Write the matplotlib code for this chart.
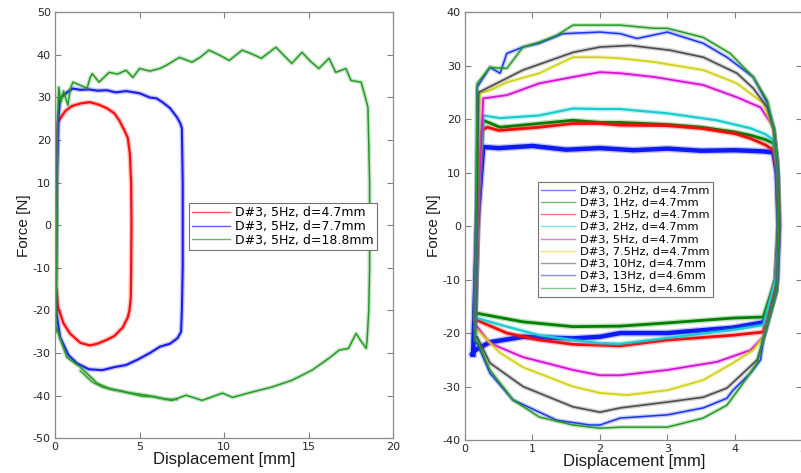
import matplotlib
matplotlib.use("Agg")
import matplotlib.pyplot as plt
from matplotlib.lines import Line2D

plt.rcParams['font.family'] = ['DejaVu Sans']
plt.rcParams['axes.unicode_minus'] = False

# --- left panel: 5 Hz loops at three amplitudes ---
red_x = [0.05, 0.08, 0.15, 0.3, 0.6, 1.0, 1.5, 2.06, 2.6, 3.1, 3.5, 3.8, 4.1, 4.3, 4.42, 4.5,
         4.52, 4.5, 4.48, 4.4, 4.3, 4.0, 3.5, 3.0, 2.5, 2.06, 1.5, 0.88, 0.5, 0.18, 0.08, 0.05]
red_y = [-15, 10, 24, 25, 26.8, 28, 28.6, 28.9, 28.3, 27.4, 26.3, 24.6, 22.3, 20.5, 17, 10,
         0, -10, -17, -20, -21.6, -24, -26, -27, -27.8, -28.2, -27.6, -25.4, -23, -19.2, -15, -15]

blue_x = [0.05, 0.1, 0.2, 0.3, 0.5, 0.8, 1.06, 1.5, 2.0, 2.5, 3.06, 3.6, 4.2, 5.0, 5.6, 6.0,
          6.35, 6.8, 7.2, 7.4, 7.5, 7.55, 7.55, 7.5, 7.45, 7.24, 6.8, 6.2, 5.6, 4.9, 4.2, 3.5,
          2.8, 2.0, 1.3, 0.8, 0.3, 0.1, 0.05]
blue_y = [-17, 10, 25, 29.8, 30.5, 31.5, 32.1, 31.8, 31.9, 31.6, 31.7, 31.2, 31.5, 31, 30, 29.8,
          28.9, 27.5, 25.4, 24, 22.8, 10, -10, -20, -25, -26.5, -27.8, -28.5, -30, -31.5, -32.8, -33.3,
          -34, -33.8, -32.4, -30.5, -26.3, -21, -17]

green_x = [0.05, 0.1, 0.15, 0.22, 0.35, 0.5, 0.76, 0.9, 1.06, 1.47, 1.9, 2.06, 2.2, 2.6, 3.2, 3.7,
           4.2, 4.6, 5.0, 5.6, 6.2, 6.6, 7.35, 8.1, 8.6, 9.1, 9.7, 10.3, 11.06, 11.6, 12.2, 13.06,
           13.5, 14.0, 14.6, 15.1, 15.6, 16.2, 16.6, 17.2, 17.5, 18.1, 18.35, 18.5, 18.6, 18.6,
           18.55, 18.45, 18.4, 18.06, 17.8, 17.35, 16.8, 16.2, 15.2, 14.0, 12.8, 11.6, 10.5, 9.9,
           8.7, 7.75, 6.9, 5.4, 4.2, 3.2, 2.5, 1.5, 0.7, 0.2, 0.1, 0.05]
green_y = [-25, 0, 25, 32.4, 29, 31.5, 28.2, 32, 33.6, 32.9, 32.2, 34.5, 35.6, 33.6, 35.9, 35.5,
           36.4, 34.7, 36.8, 36.2, 36.8, 37.6, 39.4, 38.3, 39.5, 41.1, 40, 38.7, 41.1, 40.3, 39.2, 41.8,
           40, 38, 40.6, 38.5, 36.8, 39.2, 35.9, 36.8, 34, 33.6, 30, 27.7, 10, -10,
           -20, -27, -28.9, -27, -25.4, -28.9, -29.3, -31.2, -34, -36.4, -38, -39.2, -40.4, -39.4,
           -41.1, -39.9, -41.1, -39.9, -39.2, -38.3, -37.1, -33.3, -31, -25.4, -24, -25]
# second recorded cycle, visible where the lower branch splits in two
green2_x = [1.5, 2.2, 2.8, 3.4, 4.0, 4.6, 5.2, 5.8, 6.5, 7.2]
green2_y = [-34.2, -36.8, -38.0, -38.6, -39.0, -39.6, -40.2, -40.2, -40.8, -40.9]

left_labels = ['D#3, 5Hz, d=4.7mm', 'D#3, 5Hz, d=7.7mm', 'D#3, 5Hz, d=18.8mm']

# --- right panel: d=4.7 mm loops at several frequencies ---
f02_x = [0.12, 0.18, 0.27, 0.5, 1.0, 1.5, 2.0, 2.5, 3.0, 3.5, 4.0, 4.4, 4.57, 4.62, 4.65, 4.62,
         4.5, 4.42, 3.97, 3.0, 2.3, 2.0, 1.6, 0.86, 0.37, 0.15, 0.1, 0.12]
f02_y = [-24, 0, 14.8, 14.6, 15, 14.3, 14.6, 14.2, 14.5, 14.1, 14.2, 14, 13.8, 10, 0, -10,
         -16, -18, -19, -20, -20, -20.7, -21, -20.7, -21.7, -23.2, -24, -24]

f1_x = [0.15, 0.2, 0.27, 0.52, 1.1, 1.6, 2.0, 2.3, 3.0, 3.5, 4.0, 4.23, 4.45, 4.57, 4.63, 4.65,
        4.6, 4.42, 3.97, 3.0, 2.3, 1.6, 0.86, 0.18, 0.15]
f1_y = [-16.3, 5, 19.8, 18.5, 19.2, 19.8, 19.4, 19.4, 19.0, 18.5, 17.6, 17, 16.2, 15.5, 10, 0,
        -10, -17, -17.2, -18.1, -18.7, -18.8, -17.9, -16.3, -16.3]

f15_x = [0.15, 0.2, 0.25, 0.33, 0.5, 1.1, 1.6, 2.0, 2.3, 3.0, 3.5, 4.0, 4.23, 4.45, 4.57, 4.63,
         4.65, 4.6, 4.42, 3.97, 3.0, 2.3, 1.6, 1.1, 0.62, 0.18, 0.15]
f15_y = [-17.6, 5, 17.9, 18.5, 17.9, 18.5, 19.2, 19.2, 18.9, 18.8, 18.3, 17.3, 16.4, 15.2, 14.2, 10,
         0, -10, -19.8, -20.4, -21.3, -22.4, -22.1, -21.3, -20, -17.6, -17.6]

f2_x = [0.15, 0.2, 0.27, 0.52, 1.1, 1.6, 2.0, 2.3, 3.0, 3.73, 4.23, 4.45, 4.57, 4.63, 4.65, 4.6,
        4.42, 3.97, 3.0, 2.3, 2.0, 1.6, 1.1, 0.62, 0.18, 0.15]
f2_y = [-17.2, 5, 20.7, 20.2, 20.7, 22, 21.9, 21.9, 21.1, 19.8, 18.3, 17.2, 16.1, 10, 0, -10,
        -18.5, -19.4, -20.9, -22, -21.9, -21.3, -20.4, -18.8, -17.2, -17.2]

f5_x = [0.15, 0.2, 0.27, 0.62, 1.1, 1.6, 2.0, 2.3, 2.8, 3.53, 4.03, 4.38, 4.57, 4.63, 4.65, 4.62,
        4.42, 4.23, 3.73, 3.0, 2.3, 2.0, 1.6, 0.86, 0.37, 0.18, 0.15]
f5_y = [-18.8, 5, 23.9, 24.5, 26.7, 27.9, 28.8, 28.6, 27.9, 26.4, 24.1, 22.2, 18.5, 12, 0, -12,
        -20.7, -23.2, -25.4, -26.9, -27.9, -27.9, -26.9, -24.5, -21.9, -18.8, -18.8]

f75_x = [0.15, 0.18, 0.22, 0.37, 0.62, 1.1, 1.6, 2.0, 2.3, 2.8, 3.53, 4.03, 4.42, 4.57, 4.63, 4.65,
         4.62, 4.42, 4.27, 3.97, 3.53, 3.0, 2.4, 2.0, 1.6, 0.86, 0.52, 0.18, 0.15]
f75_y = [-19.4, 5, 24.9, 25.4, 26.9, 28.6, 31.6, 31.6, 31.4, 30.7, 29.2, 26.7, 23, 18, 12, 0,
         -12, -20.7, -23.2, -25.6, -28.8, -30.7, -31.6, -31.2, -30, -26.4, -23.7, -19.4, -19.4]

f10_x = [0.15, 0.18, 0.2, 0.42, 0.86, 1.6, 2.0, 2.45, 3.04, 3.53, 4.03, 4.27, 4.48, 4.58, 4.63, 4.65,
         4.62, 4.42, 4.33, 4.12, 3.88, 3.53, 3.0, 2.3, 2.0, 1.6, 0.86, 0.37, 0.18, 0.15]
f10_y = [-20.7, 5, 25, 26.4, 29.2, 32.5, 33.5, 33.8, 32.9, 31.6, 28.6, 25.8, 22.2, 18, 12, 0,
         -12, -21.3, -25, -27.5, -30.3, -32, -32.9, -34, -34.8, -33.8, -30, -25.6, -20.7, -20.7]

f13_x = [0.15, 0.18, 0.37, 0.52, 0.62, 0.86, 1.1, 1.45, 2.0, 2.3, 2.55, 3.0, 3.53, 3.88, 4.27, 4.48,
         4.58, 4.63, 4.65, 4.62, 4.42, 4.38, 4.23, 3.97, 3.88, 3.53, 3.0, 2.3, 2.0, 1.85, 1.36, 0.71,
         0.37, 0.18, 0.15]
f13_y = [-21.9, 26, 29.7, 28.6, 32.3, 33.5, 34.2, 36, 36.3, 36, 35.1, 36.3, 34.2, 31.6, 27.9, 23,
         18, 12, 0, -12, -21.3, -25, -27.5, -30.7, -32.2, -34, -35.3, -35.9, -37.2, -37.2, -36.3, -32.5,
         -27.5, -21.9, -21.9]

f15hz_x = [0.15, 0.18, 0.37, 0.62, 0.86, 1.1, 1.36, 1.6, 2.0, 2.3, 2.8, 3.0, 3.53, 3.93, 4.27, 4.48,
           4.58, 4.63, 4.65, 4.62, 4.42, 4.33, 4.08, 3.88, 3.53, 3.0, 2.3, 2.0, 1.6, 1.1, 0.71, 0.37,
           0.18, 0.15]
f15hz_y = [-21.3, 26.7, 29.7, 29.5, 33.5, 34.4, 35.7, 37.6, 37.6, 37.6, 37, 37, 35.3, 32.3, 27.9, 23.5,
           18, 12, 0, -12, -21.3, -25.6, -30.1, -33.5, -35.9, -37.6, -37.6, -37.8, -37.2, -35.7, -32.5, -26.9,
           -21.3, -21.3]

right_labels = ['D#3, 0.2Hz, d=4.7mm', 'D#3, 1Hz, d=4.7mm', 'D#3, 1.5Hz, d=4.7mm',
                'D#3, 2Hz, d=4.7mm', 'D#3, 5Hz, d=4.7mm', 'D#3, 7.5Hz, d=4.7mm',
                'D#3, 10Hz, d=4.7mm', 'D#3, 13Hz, d=4.6mm', 'D#3, 15Hz, d=4.6mm']


def style_axes(ax):
    for s in ax.spines.values():
        s.set_color('0.55')
        s.set_linewidth(0.9)
    ax.tick_params(direction='in', top=True, right=True, length=4, width=0.8,
                   color='0.5', labelsize=8, labelcolor='0.15', pad=3)
    ax.set_xlabel('Displacement [mm]', fontsize=12, color='0.1', labelpad=0,
                  family='Liberation Sans')
    ax.set_ylabel('Force [N]', fontsize=11, color='0.1', labelpad=1,
                  family='Liberation Sans')


def fuzzy(ax, x, y, color, lw):
    # soft halo under the core line to mimic the noisy measured trace
    ax.plot(x, y, color=color, lw=lw + 2.0, alpha=0.25, solid_joinstyle='round')
    ax.plot(x, y, color=color, lw=lw, solid_joinstyle='round')


def add_legend(ax, handles, labels, anchor, size, spacing):
    leg = ax.legend(handles, labels, loc='upper left', bbox_to_anchor=anchor,
                    fontsize=size, handlelength=3.0, handletextpad=0.4, labelspacing=spacing,
                    borderpad=0.3, borderaxespad=0, fancybox=False, framealpha=1)
    leg.get_frame().set_edgecolor('0.45')
    leg.get_frame().set_linewidth(0.8)


fig = plt.figure(figsize=(8.01, 4.73), dpi=100)

# left panel
ax1 = fig.add_axes([0.0687, 0.0734, 0.4223, 0.9006])
left_series = [(red_x, red_y, (1.0, 0.05, 0.05), 1.6),
               (blue_x, blue_y, (0.1, 0.1, 0.95), 1.5),
               (green_x, green_y, (0.15, 0.6, 0.15), 1.1)]
for x, y, c, lw in left_series:
    fuzzy(ax1, x, y, c, lw)
fuzzy(ax1, green2_x, green2_y, (0.15, 0.6, 0.15), 0.9)
ax1.set_xlim(0, 20)
ax1.set_ylim(-50, 50)
ax1.set_xticks(range(0, 21, 5))
ax1.set_yticks(range(-50, 51, 10))
style_axes(ax1)
h1 = [Line2D([], [], color=c, lw=1.0, alpha=0.7) for _, _, c, _ in left_series]
add_legend(ax1, h1, left_labels, (0.395, 0.553), 9.0, 0.05)

# right panel
ax2 = fig.add_axes([0.5805, 0.0698, 0.4213, 0.9042])
right_series = [(f02_x, f02_y, (0.05, 0.1, 0.95), 3.2),
                (f1_x, f1_y, (0.0, 0.5, 0.0), 2.0),
                (f15_x, f15_y, (0.95, 0.05, 0.05), 2.0),
                (f2_x, f2_y, (0.1, 0.8, 0.8), 1.6),
                (f5_x, f5_y, (0.85, 0.05, 0.85), 1.3),
                (f75_x, f75_y, (0.82, 0.82, 0.05), 1.2),
                (f10_x, f10_y, (0.3, 0.3, 0.3), 1.2),
                (f13_x, f13_y, (0.1, 0.2, 0.95), 1.1),
                (f15hz_x, f15hz_y, (0.15, 0.6, 0.15), 1.1)]
for x, y, c, lw in right_series:
    fuzzy(ax2, x, y, c, lw)
ax2.set_xlim(0, 5)
ax2.set_ylim(-40, 40)
ax2.set_xticks(range(0, 6))
ax2.set_yticks(range(-40, 41, 10))
style_axes(ax2)
h2 = [Line2D([], [], color=c, lw=1.0, alpha=0.55) for _, _, c, _ in right_series]
add_legend(ax2, h2, right_labels, (0.216, 0.603), 8.2, 0.2)

fig.savefig('out.png', dpi=100)
